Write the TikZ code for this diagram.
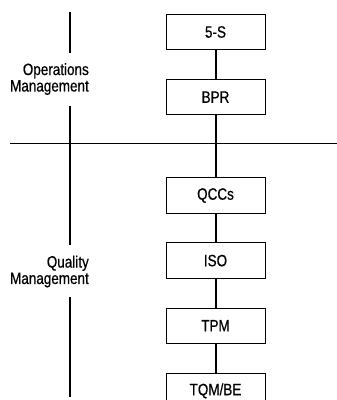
\documentclass[tikz,border=0pt]{standalone}
\usepackage{fontspec}
\setmainfont{Liberation Sans}[FakeStretch=0.82, FakeBold=0.6]
\usetikzlibrary{positioning}
\tikzstyle{stage} = [rectangle, minimum width=99bp, minimum height=35.5bp, text centered, draw=black, line width=0.9bp, font=\fontsize{16.5}{16.5}\selectfont, inner sep=0pt]
\tikzstyle{area} = [align=right, font=\fontsize{16.5}{16.5}\selectfont, inner sep=0pt, anchor=east]
\tikzstyle{link} = [line width=2bp]
\tikzstyle{divider} = [line width=0.9bp]

\begin{document}
\begin{tikzpicture}[x=1bp, y=1bp, node distance=28.7bp]
	\useasboundingbox (0,0) rectangle (337,-400);
	\node (fives) [stage] at (215.5,-32) {5-S};
	\node (bpr) [stage, below=of fives] {BPR};
	\node (qccs) [stage, below=62bp of bpr] {QCCs};
	\node (iso) [stage, below=of qccs] {ISO};
	\node (tpm) [stage, below=of iso] {TPM};
	\node (tqm) [stage, below=of tpm] {TQM/BE};

	\node (opsmgmt) [area] at (89,-79) {Operations\\Management};
	\node (qualmgmt) [area] at (89,-271.5) {Quality\\Management};

	\coordinate (divleft) at (10,-143);
	\coordinate (divright) at (337,-143);
	\coordinate (axtop) at (70,-12);
	\coordinate (axa) at (70,-53);
	\coordinate (axb) at (70,-106);
	\coordinate (axc) at (70,-245);
	\coordinate (axd) at (70,-297);
	\coordinate (axbottom) at (70,-397);

	\draw [divider] (divleft) -- (divright);

	\draw [link] (axtop) -- (axa);
	\draw [link] (axb) -- (axc);
	\draw [link] (axd) -- (axbottom);

	\draw [link] (fives) -- (bpr);
	\draw [link] (bpr) -- (qccs);
	\draw [link] (qccs) -- (iso);
	\draw [link] (iso) -- (tpm);
	\draw [link] (tpm) -- (tqm);
\end{tikzpicture}
\end{document}
